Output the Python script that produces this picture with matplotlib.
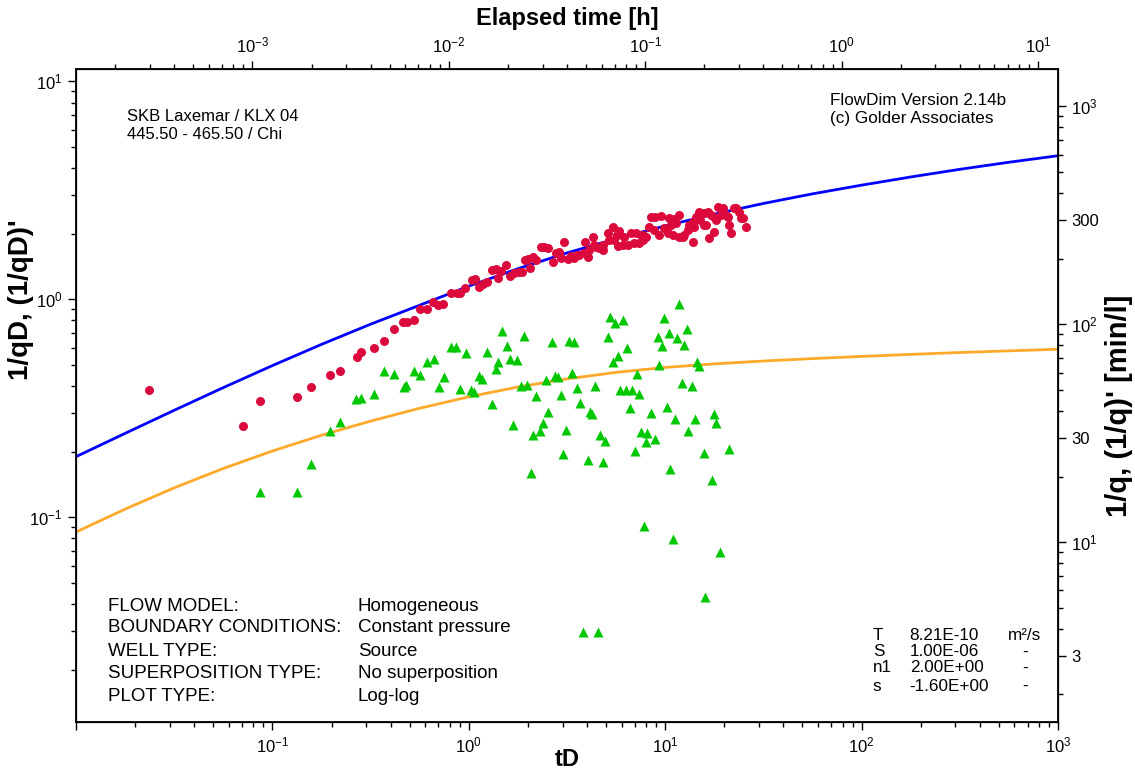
import numpy as np
import matplotlib.pyplot as plt
from matplotlib.ticker import (LogLocator, FixedLocator, FuncFormatter, NullFormatter,
                               LogFormatterSciNotation)

plt.rcParams['font.family'] = ['Liberation Sans', 'DejaVu Sans']
plt.rcParams['mathtext.default'] = 'regular'
plt.rcParams['axes.unicode_minus'] = False

# measured 1/qD (red circles)
red_td = [0.0235, 0.0708, 0.0865, 0.134, 0.158, 0.196, 0.221, 0.269, 0.284, 0.331,
          0.372, 0.418, 0.465, 0.487, 0.529, 0.567, 0.616, 0.660, 0.700, 0.742,
          0.816, 0.875, 0.906, 0.961, 1.036, 1.073, 1.124, 1.178, 1.235, 1.31,
          1.372, 1.405, 1.455, 1.543, 1.617, 1.695, 1.797, 1.862, 2.045, 1.928,
          1.997, 2.118, 2.194, 2.326, 2.409, 2.525, 2.677, 2.773, 2.89, 3.046,
          2.941, 3.191, 3.306, 3.424, 3.65, 3.85, 4.036, 3.89, 4.28, 4.33,
          4.592, 4.812, 5.102, 5.411, 5.806, 5.16, 5.48, 5.74, 6.085, 6.452,
          6.922, 7.34, 7.691, 6.16, 6.683, 7.087, 7.691, 7.966, 8.252, 8.75,
          8.447, 8.9, 9.497, 9.278, 10.31, 10.68, 11.32, 11.73, 10.45, 11.1,
          12.5, 13.03, 13.82, 13.98, 14.31, 14.83, 15.73, 16.48, 17.07, 17.68,
          15.73, 16.67, 17.68, 18.52, 19.64, 20.83, 21.07, 21.58, 22.35, 23.7,
          24.84, 25.72, 11.73, 12.29, 13.19, 13.82, 16.1, 19.19, 20.35, 22.88,
          24.26, 9.837, 10.93, 18.1, 15.1, 4.433, 4.1, 3.54, 4.812, 7.5, 5.7]
red_val = [0.385, 0.263, 0.342, 0.357, 0.397, 0.450, 0.471, 0.541, 0.571, 0.601,
           0.647, 0.730, 0.786, 0.791, 0.805, 0.900, 0.900, 0.969, 0.944, 0.951,
           1.065, 1.065, 1.065, 1.129, 1.228, 1.24, 1.145, 1.174, 1.207, 1.366,
           1.38, 1.251, 1.35, 1.439, 1.275, 1.319, 1.341, 1.341, 1.394, 1.517,
           1.53, 1.571, 1.517, 1.747, 1.747, 1.718, 1.491, 1.629, 1.657, 1.841,
           1.545, 1.53, 1.58, 1.545, 1.600, 1.629, 1.556, 1.841, 1.93, 1.778,
           1.718, 1.687, 2.024, 2.14, 2.065, 1.875, 1.875, 1.757, 1.778, 1.778,
           1.808, 1.808, 1.875, 1.941, 2.01, 2.024, 1.976, 1.941, 2.157, 2.084,
           2.398, 2.398, 2.414, 1.976, 2.024, 2.196, 2.236, 2.441, 2.36, 2.33,
           1.976, 2.084, 1.841, 2.157, 2.398, 2.528, 2.485, 2.528, 2.441, 2.398,
           2.196, 1.91, 2.046, 2.666, 2.62, 2.398, 2.196, 2.01, 2.62, 2.51,
           2.36, 2.157, 1.941, 1.941, 2.196, 2.274, 2.196, 2.441, 2.441, 2.62,
           2.36, 2.121, 1.976, 2.315, 2.315, 1.747, 1.687, 1.600, 1.778, 1.976, 1.976]

# measured derivative (green triangles)
green_td = [0.0865, 0.134, 0.158, 0.197, 0.222, 0.268, 0.284, 0.331, 0.372, 0.418,
            0.470, 0.481, 0.529, 0.567, 0.616, 0.668, 0.704, 0.751, 0.811, 0.865,
            0.972, 0.906, 1.024, 1.065, 1.131, 1.171, 1.242, 1.31, 1.372, 1.413,
            1.556, 1.484, 1.617, 1.755, 1.905, 1.683, 1.840, 1.969, 2.207, 2.062,
            2.126, 2.304, 2.389, 2.545, 2.466, 2.666, 2.751, 2.846, 2.934, 3.021,
            3.125, 3.229, 3.452, 3.345, 3.576, 3.683, 4.031, 4.141, 4.249, 4.402,
            4.640, 4.914, 4.840, 5.120, 5.242, 5.540, 6.063, 5.411, 5.771, 6.427,
            5.908, 6.316, 6.792, 7.355, 6.625, 7.001, 7.539, 8.117, 7.994, 8.851,
            7.809, 8.456, 9.169, 9.872, 10.47, 9.609, 9.333, 7.168, 10.19, 10.64,
            10.97, 11.23, 11.77, 11.46, 12.84, 12.48, 14.49, 14.88, 12.11, 13.77,
            14.15, 17.74, 18.10, 13.08, 15.67, 21.01, 17.27, 19.03, 15.91, 3.806, 4.565]
green_val = [0.1305, 0.1313, 0.1754, 0.2493, 0.2751, 0.3484, 0.3521, 0.3673, 0.4674, 0.4552,
             0.3968, 0.403, 0.4699, 0.4504, 0.5185, 0.5336, 0.3955, 0.4387, 0.6033, 0.607,
             0.5654, 0.3873, 0.382, 0.3764, 0.4457, 0.4295, 0.5763, 0.3299, 0.4784, 0.516,
             0.6116, 0.717, 0.530, 0.528, 0.680, 0.2665, 0.400, 0.404, 0.3597, 0.1605,
             0.2374, 0.2493, 0.2713, 0.3031, 0.4272, 0.6383, 0.4457, 0.441, 0.3627, 0.1949,
             0.2519, 0.645, 0.6383, 0.4586, 0.3914, 0.3362, 0.1841, 0.304, 0.2993, 0.401,
             0.2375, 0.2234, 0.1791, 0.673, 0.831, 0.7777, 0.805, 0.5158, 0.5518, 0.597,
             0.3844, 0.3844, 0.3844, 0.3697, 0.3168, 0.2023, 0.2454, 0.2441, 0.2227, 0.2275,
             0.0914, 0.3025, 0.673, 0.820, 0.704, 0.6116, 0.5023, 0.4538, 0.3212, 0.1657,
             0.0797, 0.2822, 0.9486, 0.6637, 0.730, 0.6181, 0.5185, 0.4955, 0.4126, 0.401,
             0.2822, 0.2984, 0.2722, 0.2493, 0.1982, 0.2056, 0.1475, 0.0690, 0.0432, 0.0299, 0.0299]

# type curve (blue) and its derivative (orange), read every quarter decade
curve_td = [0.01, 0.01778, 0.03162, 0.05623, 0.1, 0.1778, 0.3162, 0.5623, 1.0, 1.778,
            3.162, 5.623, 10.0, 17.78, 31.62, 56.23, 100.0, 177.8, 316.2, 562.3, 1000.0]
model_val = [0.1897, 0.2427, 0.3097, 0.3936, 0.4966, 0.6214, 0.7691, 0.9397, 1.1495, 1.382,
             1.633, 1.897, 2.173, 2.46, 2.754, 3.048, 3.342, 3.643, 3.95, 4.256, 4.56]
deriv_val = [0.0856, 0.1090, 0.1365, 0.1675, 0.2014, 0.2379, 0.2763, 0.3164, 0.3570, 0.3960,
             0.4316, 0.4624, 0.4872, 0.5058, 0.5212, 0.5347, 0.5472, 0.5590, 0.5702, 0.5804,
             0.5902]

xlim = (0.01, 1000)
ylim = (0.0115, 11.4)
time_factor = 0.01264   # tD -> elapsed time [h]
q_factor = 130.0        # 1/qD -> 1/q [min/l]

fig = plt.figure(figsize=(11.35, 7.71), dpi=100)
ax = fig.add_axes([76 / 1135, 1 - 722 / 771, 982 / 1135, 653 / 771])

ax.plot(curve_td, model_val, color='#0000FF', lw=2.0, zorder=2)
ax.plot(curve_td, deriv_val, color='#FFA92B', lw=2.0, zorder=2)
ax.plot(red_td, red_val, 'o', color='#DC0A3C', ms=6.5, mec='none', zorder=3)
ax.plot(green_td, green_val, '^', color='#00C800', ms=7, mec='none', zorder=3)

ax.set_xscale('log')
ax.set_yscale('log')
ax.set_xlim(xlim)
ax.set_ylim(ylim)

tick_kw = dict(direction='out', labelsize=12, width=1.0)
ax.tick_params(which='major', length=6, **tick_kw)
ax.tick_params(which='minor', length=3.5, **tick_kw)

sci = LogFormatterSciNotation()


def bottom_fmt(v, pos):
    # the left end of the tD axis carries no label
    if v <= xlim[0] * 1.001:
        return ''
    return sci(v, pos)


ax.xaxis.set_major_formatter(FuncFormatter(bottom_fmt))
ax.xaxis.set_minor_formatter(NullFormatter())
ax.yaxis.set_minor_formatter(NullFormatter())
for sp in ax.spines.values():
    sp.set_linewidth(1.3)

ax.set_xlabel('tD', fontsize=17, fontweight='bold', va='center')
ax.xaxis.set_label_coords(0.5, -0.058)
ax.set_ylabel("1/qD, (1/qD)'", fontsize=20, fontweight='bold', va='center')
ax.yaxis.set_label_coords(-0.056, 0.646)

# top axis: elapsed time
axt = ax.twiny()
axt.set_xscale('log')
axt.set_xlim(xlim[0] * time_factor, xlim[1] * time_factor)
axt.tick_params(which='major', length=6, **tick_kw)
axt.tick_params(which='minor', length=3.5, **tick_kw)
axt.xaxis.set_minor_formatter(NullFormatter())
axt.set_xlabel('Elapsed time [h]', fontsize=17, fontweight='bold', va='center')
axt.xaxis.set_label_coords(0.5, 1.078)

# right axis: 1/q
axr = ax.twinx()
axr.set_yscale('log')
axr.set_ylim(ylim[0] * q_factor, ylim[1] * q_factor)


def right_fmt(v, pos):
    e = int(round(np.log10(v)))
    if abs(v - 10 ** e) < 1e-6 * v:
        return r'$10^{%d}$' % e
    return '%g' % v


axr.yaxis.set_major_locator(FixedLocator([3, 10, 30, 100, 300, 1000]))
axr.yaxis.set_major_formatter(FuncFormatter(right_fmt))
axr.yaxis.set_minor_locator(LogLocator(base=10, subs=(2, 4, 5, 6, 7, 8, 9), numticks=20))
axr.yaxis.set_minor_formatter(NullFormatter())
axr.tick_params(which='major', length=6, **tick_kw)
axr.tick_params(which='minor', length=3.5, **tick_kw)
axr.set_ylabel("1/q, (1/q)' [min/l]", fontsize=21, fontweight='bold', va='center',
               rotation=90)
axr.yaxis.set_label_coords(1.062, 0.484)

# annotations
ax.text(0.052, 0.927, 'SKB Laxemar / KLX 04', transform=ax.transAxes, fontsize=12, va='center')
ax.text(0.052, 0.900, '445.50 - 465.50 / Chi', transform=ax.transAxes, fontsize=12, va='center')
ax.text(0.768, 0.951, 'FlowDim Version 2.14b', transform=ax.transAxes, fontsize=12.3, va='center')
ax.text(0.768, 0.924, '(c) Golder Associates', transform=ax.transAxes, fontsize=12.3, va='center')

info_labels = ['FLOW MODEL:', 'BOUNDARY CONDITIONS:', 'WELL TYPE:',
               'SUPERPOSITION TYPE:', 'PLOT TYPE:']
info_values = ['Homogeneous', 'Constant pressure', 'Source',
               'No superposition', 'Log-log']
rows = [0.1776, 0.144, 0.1087, 0.0750, 0.0398]
for lab, val, yy in zip(info_labels, info_values, rows):
    ax.text(0.0326, yy, lab, transform=ax.transAxes, fontsize=13.5, va='center')
    ax.text(0.287, yy, val, transform=ax.transAxes, fontsize=13.5, va='center')

par_names = ['T', 'S', 'n1', 's']
par_values = ['8.21E-10', '1.00E-06', '2.00E+00', '-1.60E+00']
par_units = ['m\u00b2/s', '-', '-', '-']
prow = [0.1318, 0.1072, 0.0827, 0.0551]
for nm, pv, un, yy in zip(par_names, par_values, par_units, prow):
    ax.text(0.8115, yy, nm, transform=ax.transAxes, fontsize=12.3, va='center')
    ax.text(0.849, yy, pv, transform=ax.transAxes, fontsize=12.3, va='center')
    ax.text(0.9664, yy, un, transform=ax.transAxes, fontsize=12.3, va='center', ha='center')

fig.savefig('out.png', dpi=100)
